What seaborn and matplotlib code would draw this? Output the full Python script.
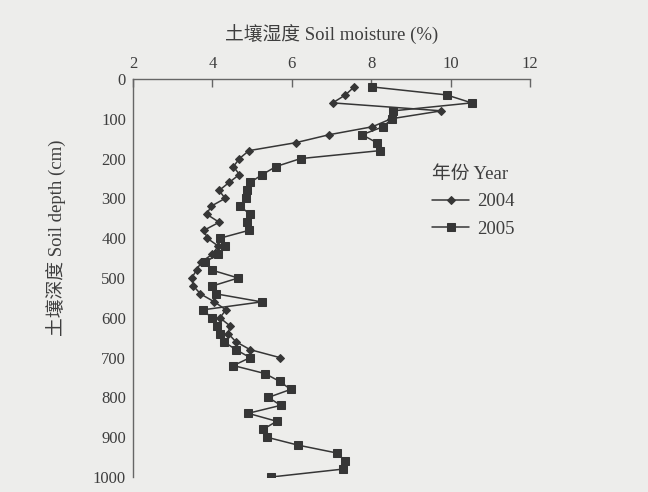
import matplotlib
matplotlib.use("Agg")
import matplotlib.pyplot as plt
import seaborn as sns
import pandas as pd

# ---- data ----
depth_2004 = [20, 40, 60, 80, 100, 120, 140, 160, 180, 200, 220, 240, 260, 280, 300,
              320, 340, 360, 380, 400, 420, 440, 460, 480, 500, 520, 540, 560, 580, 600,
              620, 640, 660, 680, 700]
moist_2004 = [7.57, 7.35, 7.03, 9.77, 8.50, 8.03, 6.94, 6.10, 4.92, 4.68, 4.53, 4.68, 4.42, 4.17, 4.32,
              3.96, 3.86, 4.17, 3.79, 3.87, 4.15, 4.00, 3.72, 3.60, 3.48, 3.52, 3.70, 4.05, 4.34, 4.19,
              4.44, 4.40, 4.59, 4.95, 5.70]

depth_2005 = [20, 40, 60, 80, 100, 120, 140, 160, 180, 200, 220, 240, 260, 280, 300,
              320, 340, 360, 380, 400, 420, 440, 460, 480, 500, 520, 540, 560, 580, 600,
              620, 640, 660, 680, 700, 720, 740, 760, 780, 800, 820, 840, 860, 880, 900,
              920, 940, 960, 980, 1000]
moist_2005 = [8.03, 9.90, 10.53, 8.56, 8.52, 8.30, 7.77, 8.14, 8.22, 6.22, 5.60, 5.26, 4.95, 4.87, 4.85,
              4.70, 4.95, 4.87, 4.93, 4.19, 4.32, 4.15, 3.82, 3.98, 4.65, 4.00, 4.10, 5.24, 3.76, 3.98,
              4.12, 4.18, 4.29, 4.59, 4.95, 4.53, 5.32, 5.70, 5.97, 5.41, 5.72, 4.90, 5.62, 5.28, 5.37,
              6.16, 7.15, 7.34, 7.30, 5.48]

x_ticks = [2, 4, 6, 8, 10, 12]
y_ticks = [0, 100, 200, 300, 400, 500, 600, 700, 800, 900, 1000]
x_title = "土壤湿度 Soil moisture (%)"
y_title = "土壤深度 Soil depth (cm)"
legend_title = "年份 Year"
years = ["2004", "2005"]

df04 = pd.DataFrame({"depth": depth_2004, "moisture": moist_2004})
df05 = pd.DataFrame({"depth": depth_2005, "moisture": moist_2005})

# ---- style ----
sns.set_style("white")
plt.rcParams["font.family"] = ["Liberation Serif", "Noto Sans CJK SC", "DejaVu Sans"]
bg = "#ededeb"
ink = "#363636"
txt = "#3e3e3e"

fig = plt.figure(figsize=(6.48, 4.92), dpi=100, facecolor=bg)
ax = fig.add_axes([133 / 648, 1 - 477 / 492, 397 / 648, 398 / 492])
ax.set_facecolor(bg)

sns.lineplot(data=df04, x="moisture", y="depth", orient="y", sort=False, ax=ax,
             color=ink, lw=1.1, marker="D", markersize=4.3, markeredgecolor=ink,
             markerfacecolor=ink, label=years[0])
sns.lineplot(data=df05, x="moisture", y="depth", orient="y", sort=False, ax=ax,
             color=ink, lw=1.1, marker="s", markersize=6.0, markeredgecolor=ink,
             markerfacecolor=ink, label=years[1])

ax.set_xlim(2, 12)
ax.set_ylim(1000, 0)
ax.set_xticks(x_ticks)
ax.set_yticks(y_ticks)
ax.xaxis.tick_top()
ax.xaxis.set_label_position("top")
for s in ["right", "bottom"]:
    ax.spines[s].set_visible(False)
for s in ["top", "left"]:
    ax.spines[s].set_color("#666666")
    ax.spines[s].set_linewidth(1.0)
ax.tick_params(axis="both", direction="in", length=6, width=1.0, color="#666666",
               labelsize=12, labelcolor=txt, pad=5)
ax.tick_params(axis="x", top=True, bottom=False)

ax.set_xlabel(x_title, fontsize=13.5, color=txt, labelpad=11)
ax.set_ylabel(y_title, fontsize=13.5, color=txt)
ax.yaxis.set_label_coords(-0.166, 0.60)

leg = ax.legend(title=legend_title, loc="upper left", bbox_to_anchor=(0.72, 0.815),
                frameon=False, fontsize=13.5, title_fontsize=13.5, handlelength=2.0,
                handletextpad=0.4, labelspacing=0.55, alignment="left", borderpad=0.2)
for t in leg.get_texts():
    t.set_color(txt)
leg.get_title().set_color(txt)

fig.savefig("out.png", dpi=100, facecolor=bg)
